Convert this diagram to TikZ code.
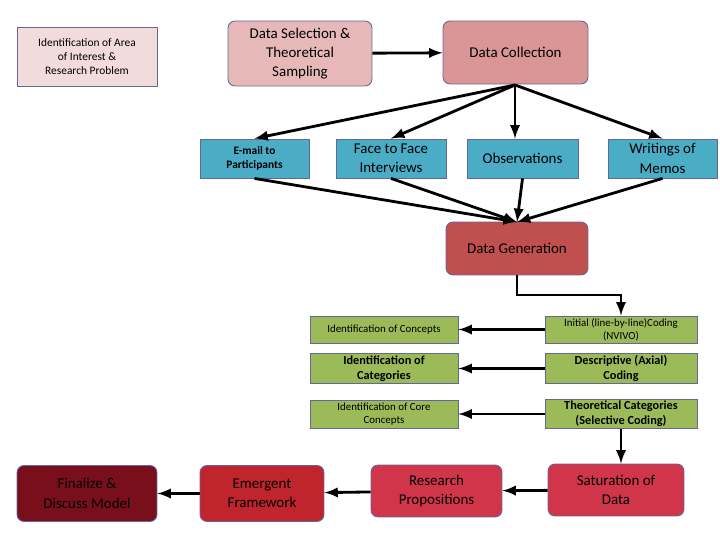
\documentclass[tikz,border=0pt]{standalone}
\usepackage{fontspec}
\setmainfont{Carlito}
\begin{document}
\begin{tikzpicture}[x=0.02cm,y=-0.02cm,
 box/.style={draw=#1!70!black!60!gray, line width=0.5pt, align=center, inner sep=1pt},
 bx/.style={draw=gray!80!blue, line width=0.5pt, align=center, inner sep=1pt},
 ar/.style={-latex, line width=1.6pt, black}]
\useasboundingbox (0,0) rectangle (720,540);
\definecolor{pk1}{HTML}{F2DCDB}\definecolor{pk2}{HTML}{E6B9B8}\definecolor{pk3}{HTML}{D99694}
\definecolor{tl}{HTML}{4BACC6}\definecolor{rd}{HTML}{C0504D}\definecolor{gr}{HTML}{9BBB59}
\definecolor{dr1}{HTML}{7A0F1C}\definecolor{dr2}{HTML}{C0242C}\definecolor{dr3}{HTML}{D0354A}
\tikzset{r/.style={bx, rounded corners=4pt}}
\newcommand{\bxn}[7]{\node[#1, fill=#2, minimum width={(#5-#3)*0.02cm}, minimum height={(#6-#4)*0.02cm}, font=#7] (#4#3) at ({(#3+#5)/2},{(#4+#6)/2}) {};}
\node[bx, fill=pk1, minimum width=2.8cm, minimum height=1.18cm, font=\fontsize{6.5}{8}\selectfont] (ia) at (87,56.5) {Identification of Area\\of Interest \&\\Research Problem};
\node[r, fill=pk2, minimum width=2.88cm, minimum height=1.3cm, font=\fontsize{8.5}{11}\selectfont] (ds) at (300,53.5) {Data Selection \&\\Theoretical\\Sampling};
\node[r, fill=pk3, minimum width=2.9cm, minimum height=1.26cm, font=\fontsize{8.5}{11}\selectfont] (dc) at (515.5,52.5) {Data Collection};
\node[bx, fill=tl, minimum width=2.18cm, minimum height=0.78cm, font=\fontsize{6.5}{8}\selectfont\bfseries] (em) at (254.5,158.5) {E-mail to\\Participants};
\node[bx, fill=tl, minimum width=2.2cm, minimum height=0.78cm, font=\fontsize{8.5}{11}\selectfont] (ff) at (391,158.5) {Face to Face\\Interviews};
\node[bx, fill=tl, minimum width=2.22cm, minimum height=0.78cm, font=\fontsize{8.5}{11}\selectfont] (ob) at (522.5,158.5) {Observations};
\node[bx, fill=tl, minimum width=2.18cm, minimum height=0.78cm, font=\fontsize{8.5}{11}\selectfont] (wm) at (662.5,158.5) {Writings of\\Memos};
\node[r, fill=rd, minimum width=2.84cm, minimum height=1.06cm, font=\fontsize{8.5}{11}\selectfont] (dg) at (517,248.5) {Data Generation};
\tikzset{g/.style={bx, fill=gr, minimum width=2.96cm, font=\fontsize{6.2}{7.5}\selectfont}}
\node[g, minimum height=0.54cm] (c1) at (384,329.5) {Identification of Concepts};
\node[g, minimum height=0.58cm, font=\fontsize{7}{8.5}\selectfont\bfseries] (c2) at (384,368.5) {Identification of\\Categories};
\node[g, minimum height=0.56cm] (c3) at (384,414) {Identification of Core\\Concepts};
\node[g, minimum width=3.04cm, minimum height=0.54cm] (k1) at (621,329.5) {Initial (line-by-line)Coding\\(NVIVO)};
\node[g, minimum width=3.04cm, minimum height=0.58cm, font=\fontsize{7}{8.5}\selectfont\bfseries] (k2) at (621,368.5) {Descriptive (Axial)\\Coding};
\node[g, minimum width=3.04cm, minimum height=0.56cm, font=\fontsize{7}{8.5}\selectfont\bfseries] (k3) at (621,414) {Theoretical Categories\\(Selective Coding)};
\tikzset{b/.style={r, minimum height=1.12cm, font=\fontsize{8.5}{11}\selectfont}}
\node[b, fill=dr1, minimum width=2.8cm] (fd) at (87,493.5) {Finalize \&\\Discuss Model};
\node[b, fill=dr2, minimum width=2.48cm] (ef) at (262,493.5) {Emergent\\Framework};
\node[b, fill=dr3, minimum width=2.62cm, minimum height=1.04cm] (rp) at (436.5,491) {Research\\Propositions};
\node[b, fill=dr3, minimum width=2.72cm, minimum height=1.04cm] (sd) at (616,490) {Saturation of\\Data};
\draw[ar] (ds) -- (dc);
\coordinate (dcb) at (515,85);
\draw[ar] (dcb) -- (em.north);
\draw[ar] (dcb) -- (ff.north);
\draw[ar] (dcb) -- (ob.north -| dcb);
\draw[ar] (dcb) -- (wm.north);
\coordinate (dgt) at (517,222);
\draw[ar] (em.south) -- (dgt);
\draw[ar] (ff.south) -- (dgt);
\draw[ar] (ob.south) -- (dgt);
\draw[ar] (wm.south) -- (dgt);
\draw[ar] (dg.south) |- (621,295) -- (k1.north);
\draw[ar] (k1) -- (c1);
\draw[ar] (k2) -- (c2);
\draw[ar] (k3) -- (c3);
\draw[ar] (k3.south) -- (sd.north -| k3.south);
\draw[ar] (sd) -- (rp);
\draw[ar] (rp) -- (ef);
\draw[ar] (ef) -- (fd);
\end{tikzpicture}
\end{document}
